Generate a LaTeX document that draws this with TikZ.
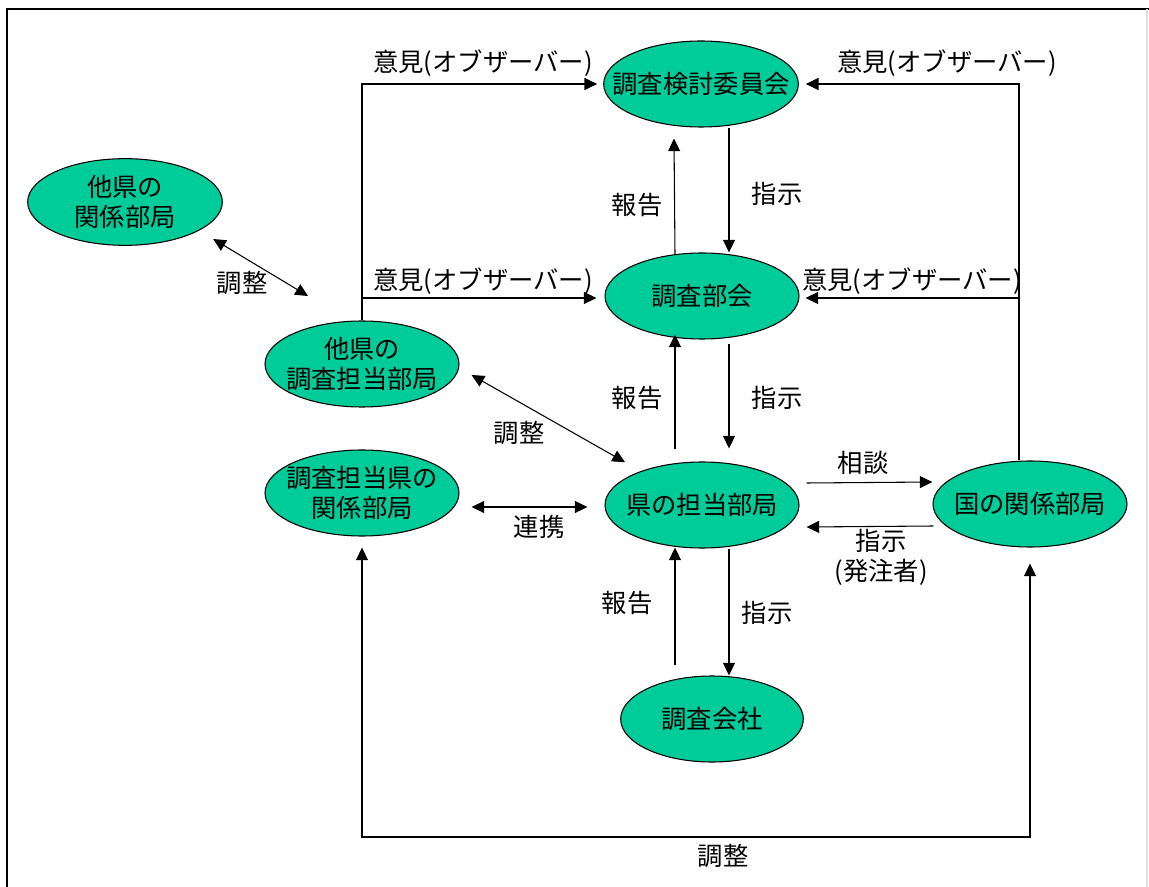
\documentclass[tikz,border=0pt]{standalone}
\usepackage{fontspec}
\setmainfont{Noto Sans CJK JP}
\usetikzlibrary{shapes.geometric,arrows.meta,calc}
\definecolor{teal}{HTML}{00CC99}
\tikzset{
  ell/.style={ellipse, draw=black, line width=0.8pt, fill=teal, inner sep=0pt,
    minimum width=145.5pt, minimum height=64.5pt},
  lbl/.style={inner sep=0pt, align=center, font=\fontsize{19}{22.5}\selectfont},
  conn/.style={line width=0.8pt, draw=black},
  arr/.style={conn, -{Triangle[length=9.5pt,width=9pt]}},
  darr/.style={conn, {Triangle[length=9.5pt,width=9pt]}-{Triangle[length=9.5pt,width=9pt]}},
}
\begin{document}
\begin{tikzpicture}[x=0.75pt,y=-0.75pt]
\useasboundingbox (0,0) rectangle (1149,887);
\fill[white] (0,0) rectangle (1149,887);
% frame
\draw[line width=1.4pt] (7,900) -- (7,9) -- (1160,9);
\draw[black!12, line width=0.8pt] (1147,9) -- (1147,900);

% nodes
\node[ell, minimum width=146pt, label={[lbl]center:調査検討委員会}] (iinkai) at (701,84) {};
\node[ell, label={[lbl]center:調査部会}] (bukai) at (702,296) {};
\node[ell, label={[lbl]center:県の担当部局}] (ken) at (702,505) {};
\node[ell, minimum width=137pt, label={[lbl]center:調査会社}] (kaisha) at (712,719) {};
\node[ell, label={[lbl]center:国の関係部局}] (kuni) at (1030,504) {};
\node[ell, minimum width=146pt, minimum height=65pt, label={[lbl]center:他県の\\関係部局}] (takenkankei) at (125,202) {};
\node[ell, label={[lbl]center:他県の\\調査担当部局}] (takenchosa) at (362,364) {};
\node[ell, label={[lbl]center:調査担当県の\\関係部局}] (chosaken) at (362,493) {};

% observer connectors (left)
\draw[arr] (takenchosa.north) |- ($(iinkai.west)+(-6,0)$);
\coordinate (lj) at (takenchosa.north |- bukai.west);
\draw[arr] ($(lj)+(0,2)$) -- ($(bukai.west)+(-8,2)$);
% observer connectors (right)
\coordinate (kr) at ($(kuni.north)+(-11,0)$);
\draw[arr] (kr) |- ($(iinkai.east)+(7,0)$);
\coordinate (rj) at (kr |- bukai.east);
\draw[arr] ($(rj)+(0,2)$) -- ($(bukai.east)+(6,2)$);

% 報告 / 指示 vertical pairs
\draw[arr] ($(bukai.north)+(-27,2)$) -- ($(iinkai.south)+(-27,11)$);
\draw[arr] ($(iinkai.south)+(28,0)$) -- ($(bukai.north)+(27,0)$);
\draw[arr] ($(ken.north)+(-27,-12)$) -- ($(bukai.south)+(-27,-5)$);
\draw[arr] ($(bukai.south)+(27,4)$) -- ($(ken.north)+(27,-13)$);
\draw[arr] ($(kaisha.north)+(-37,-10)$) -- ($(ken.south)+(-27,-1)$);
\draw[arr] ($(ken.south)+(27,0)$) -- ($(kaisha.north)+(17,0)$);

% 相談 / 指示(発注者)
\draw[arr] ($(ken.east)+(7,-22)$) -- ($(kuni.west)+(0,-22)$);
\draw[arr] ($(kuni.west)+(1,22)$) -- ($(ken.east)+(7,22)$);

% 連携
\draw[darr] ($(chosaken.east)+(12,14)$) -- ($(ken.west)+(-17,2)$);
% 調整 diagonal
\draw[darr] ($(takenchosa.east)+(12,11)$) -- ($(ken.north west)+(-8,-12)$);
% 調整 upper-left
\draw[darr] ($(takenkankei.south east)+(19,6)$) -- ($(takenchosa.center)+(-54,-68)$);
% 調整 bottom
\coordinate (bot) at (700,837);
\draw[darr] ($(chosaken.south)+(0,11)$) |- (bot) -| ($(kuni.south)+(0,16)$);

% labels
\node[lbl] (l1) at (483,63) {意見(オブザーバー)};
\node[lbl] (l2) at (947,63) {意見(オブザーバー)};
\node[lbl] (l3) at (483,281) {意見(オブザーバー)};
\node[lbl] (l4) at (912,281) {意見(オブザーバー)};
\node[lbl] (l5) at (637,205) {報告};
\node[lbl] (l6) at (777,194) {指示};
\node[lbl] (l7) at (637,398) {報告};
\node[lbl] (l8) at (777,398) {指示};
\node[lbl] (l9) at (627,603) {報告};
\node[lbl] (l10) at (767,613) {指示};
\node[lbl] (l11) at (863,463) {相談};
\node[lbl] (l12) at (881,557) {指示\\(発注者)};
\node[lbl] (l13) at (539,527) {連携};
\node[lbl] (l14) at (519,433) {調整};
\node[lbl] (l15) at (242,283) {調整};
\node[lbl] (l16) at (723,856) {調整};
\end{tikzpicture}
\end{document}
